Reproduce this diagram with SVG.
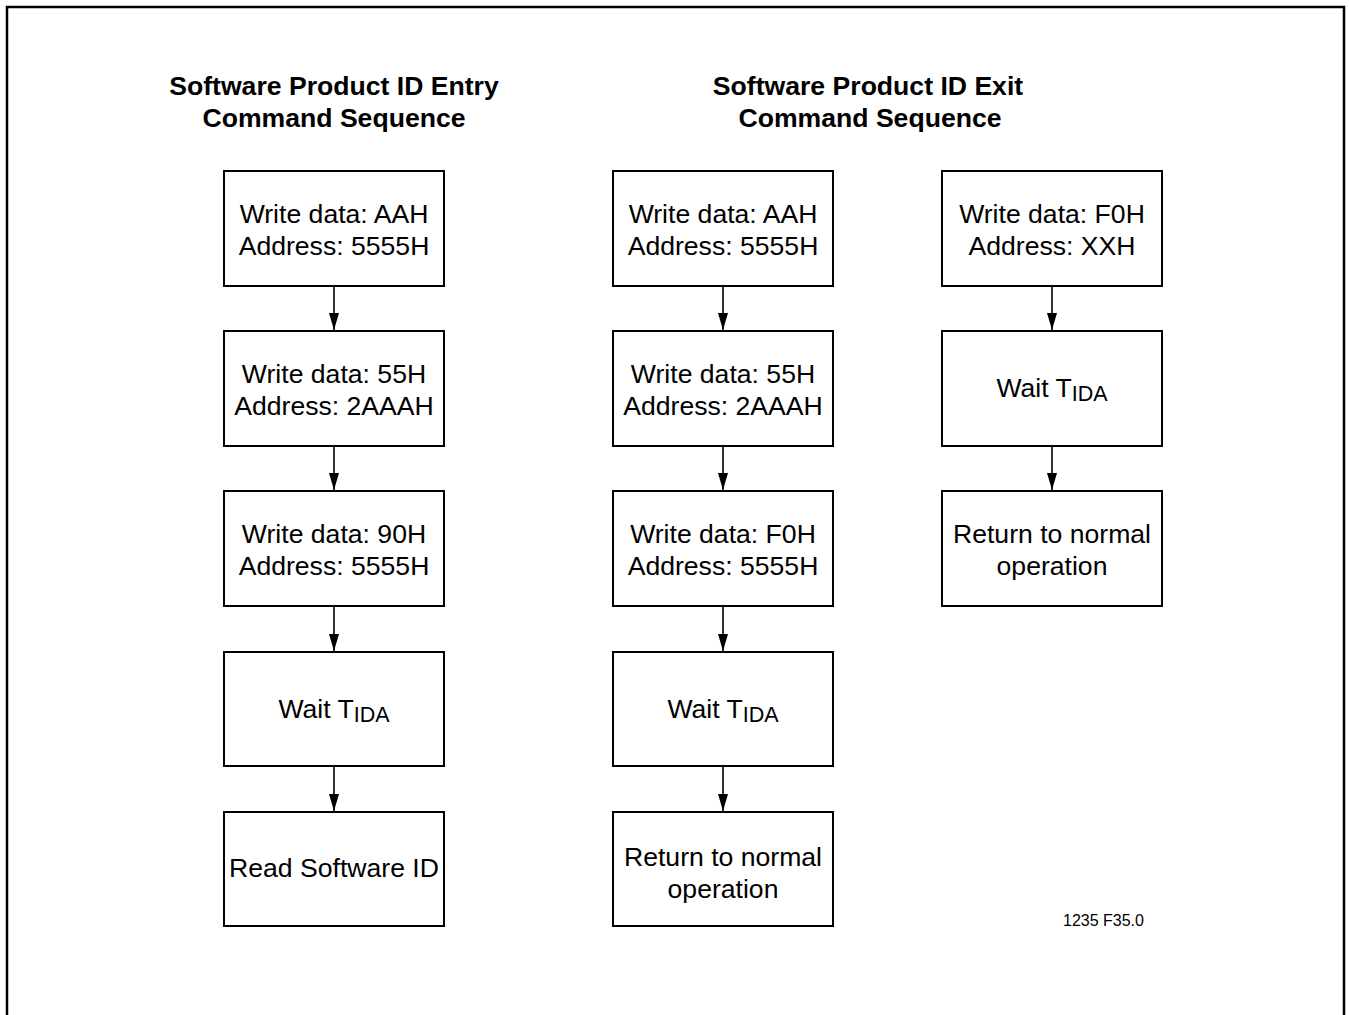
<svg xmlns="http://www.w3.org/2000/svg" width="1349" height="1015" viewBox="0 0 1349 1015">
<defs>
<style>
.box{fill:#fff;stroke:#000;stroke-width:2}
.t{font-family:"Liberation Sans",Arial,Helvetica,sans-serif;font-size:26.6px;fill:#000;text-anchor:middle}
.h{font-family:"Liberation Sans",Arial,Helvetica,sans-serif;font-size:26.6px;font-weight:bold;fill:#000;text-anchor:middle}
.sub{font-size:21.5px}
.c{stroke:#000;stroke-width:1.6;fill:none;marker-end:url(#ah)}
.note{font-family:"Liberation Sans",Arial,Helvetica,sans-serif;font-size:16px;fill:#000}
</style>
<marker id="ah" markerWidth="17" markerHeight="10" refX="17" refY="5" orient="auto" markerUnits="userSpaceOnUse" viewBox="0 0 17 10">
<path d="M0,0 L17,5 L0,10 Z" fill="#000"/>
</marker>
</defs>
<rect width="1349" height="1015" fill="#fff"/>
<path d="M7,1016 V7 H1344 V1016" fill="none" stroke="#000" stroke-width="2.5"/>

<g id="title-entry">
<text class="h" x="334" y="95">Software Product ID Entry</text>
<text class="h" x="334" y="127">Command Sequence</text>
</g>
<g id="title-exit">
<text class="h" x="868" y="95">Software Product ID Exit</text>
<text class="h" x="870" y="127">Command Sequence</text>
</g>

<g id="connectors">
<line class="c" x1="334" y1="286" x2="334" y2="330"/>
<line class="c" x1="334" y1="446" x2="334" y2="490"/>
<line class="c" x1="334" y1="606" x2="334" y2="651"/>
<line class="c" x1="334" y1="766" x2="334" y2="811"/>
<line class="c" x1="723" y1="286" x2="723" y2="330"/>
<line class="c" x1="723" y1="446" x2="723" y2="490"/>
<line class="c" x1="723" y1="606" x2="723" y2="651"/>
<line class="c" x1="723" y1="766" x2="723" y2="811"/>
<line class="c" x1="1052" y1="286" x2="1052" y2="330"/>
<line class="c" x1="1052" y1="446" x2="1052" y2="490"/>
</g>

<g id="e1"><rect class="box" x="224" y="171" width="220" height="115"/>
<text class="t" x="334" y="223">Write data: AAH</text><text class="t" x="334" y="255">Address: 5555H</text></g>
<g id="e2"><rect class="box" x="224" y="331" width="220" height="115"/>
<text class="t" x="334" y="383">Write data: 55H</text><text class="t" x="334" y="415">Address: 2AAAH</text></g>
<g id="e3"><rect class="box" x="224" y="491" width="220" height="115"/>
<text class="t" x="334" y="543">Write data: 90H</text><text class="t" x="334" y="575">Address: 5555H</text></g>
<g id="e4"><rect class="box" x="224" y="652" width="220" height="114"/>
<text class="t" x="334" y="718">Wait T<tspan class="sub" dy="3.5">IDA</tspan></text></g>
<g id="e5"><rect class="box" x="224" y="812" width="220" height="114"/>
<text class="t" x="334" y="877">Read Software ID</text></g>

<g id="x1"><rect class="box" x="613" y="171" width="220" height="115"/>
<text class="t" x="723" y="223">Write data: AAH</text><text class="t" x="723" y="255">Address: 5555H</text></g>
<g id="x2"><rect class="box" x="613" y="331" width="220" height="115"/>
<text class="t" x="723" y="383">Write data: 55H</text><text class="t" x="723" y="415">Address: 2AAAH</text></g>
<g id="x3"><rect class="box" x="613" y="491" width="220" height="115"/>
<text class="t" x="723" y="543">Write data: F0H</text><text class="t" x="723" y="575">Address: 5555H</text></g>
<g id="x4"><rect class="box" x="613" y="652" width="220" height="114"/>
<text class="t" x="723" y="718">Wait T<tspan class="sub" dy="3.5">IDA</tspan></text></g>
<g id="x5"><rect class="box" x="613" y="812" width="220" height="114"/>
<text class="t" x="723" y="866">Return to normal</text><text class="t" x="723" y="898">operation</text></g>

<g id="y1"><rect class="box" x="942" y="171" width="220" height="115"/>
<text class="t" x="1052" y="223">Write data: F0H</text><text class="t" x="1052" y="255">Address: XXH</text></g>
<g id="y2"><rect class="box" x="942" y="331" width="220" height="115"/>
<text class="t" x="1052" y="397">Wait T<tspan class="sub" dy="3.5">IDA</tspan></text></g>
<g id="y3"><rect class="box" x="942" y="491" width="220" height="115"/>
<text class="t" x="1052" y="543">Return to normal</text><text class="t" x="1052" y="575">operation</text></g>

<text class="note" x="1063" y="926">1235 F35.0</text>
</svg>
